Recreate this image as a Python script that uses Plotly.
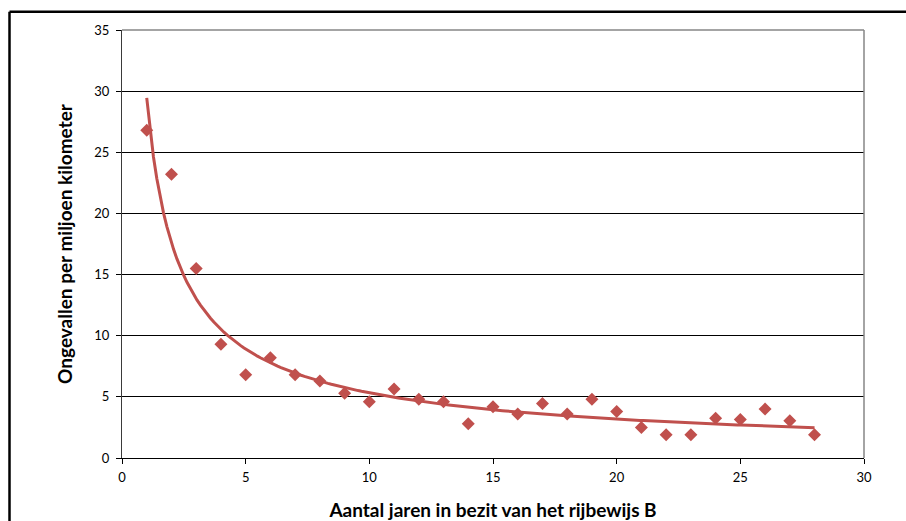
import numpy as np
import plotly.graph_objects as go

years = [1, 2, 3, 4, 5, 6, 7, 8, 9, 10, 11, 12, 13, 14, 15, 16, 17, 18, 19, 20,
         21, 22, 23, 24, 25, 26, 27, 28]
accidents = [26.8, 23.2, 15.5, 9.3, 6.8, 8.2, 6.8, 6.3, 5.3, 4.6, 5.65, 4.8, 4.6, 2.8,
             4.2, 3.6, 4.45, 3.6, 4.8, 3.8, 2.5, 1.9, 1.9, 3.25, 3.15, 4.0, 3.05, 1.9]
x_ticks = [0, 5, 10, 15, 20, 25, 30]
y_ticks = [0, 5, 10, 15, 20, 25, 30, 35]
x_title = "Aantal jaren in bezit van het rijbewijs B"
y_title = "Ongevallen per miljoen kilometer"

RED = "#C0504D"
FONT = "Lato"

# power trendline (least squares in log-log space, as a spreadsheet power trendline)
b, loga = np.polyfit(np.log(years), np.log(accidents), 1)
a = np.exp(loga)
tx = np.linspace(min(years), max(years), 200)
ty = a * tx ** b

fig = go.Figure()
fig.add_trace(go.Scatter(x=tx, y=ty, mode="lines",
                         line=dict(color=RED, width=3), hoverinfo="skip",
                         showlegend=False))
fig.add_trace(go.Scatter(x=years, y=accidents, mode="markers",
                         marker=dict(symbol="diamond", size=10, color=RED,
                                     line=dict(width=0)),
                         showlegend=False))

W, H = 906, 521
L, R, T, B = 122, 42, 29.5, 62.5
pw, ph = W - L - R, H - T - B

fig.update_layout(
    width=W, height=H,
    margin=dict(l=L, r=R, t=T, b=B, pad=0, autoexpand=False),
    paper_bgcolor="white", plot_bgcolor="white",
    font=dict(family=FONT, size=13, color="#000000"),
    xaxis=dict(range=[0, 30], tickvals=x_ticks, showgrid=False, zeroline=False,
               automargin=False,
               showline=True, linecolor="#000000", linewidth=1,
               ticks="outside", ticklen=5, tickcolor="#000000",
               ticklabelstandoff=2,
               tickfont=dict(size=13),
               title=dict(text="<b>" + x_title + "</b>", font=dict(size=19), standoff=30)),
    yaxis=dict(range=[0, 35], tickvals=y_ticks, showgrid=True, gridcolor="#000000",
               gridwidth=1, zeroline=False, automargin=False,
               showline=True, linecolor="#3a3a3a", linewidth=1,
               ticks="outside", ticklen=5, tickcolor="#000000",
               ticklabelstandoff=4,
               tickfont=dict(size=13),
               title=dict(text="<b>" + y_title + "</b>", font=dict(size=19), standoff=16)),
)

# plot-area border (top and right) in grey
fig.add_shape(type="line", xref="paper", yref="paper", x0=0, x1=1, y0=1, y1=1,
              line=dict(color="#868686", width=1.5), layer="above")
fig.add_shape(type="line", xref="paper", yref="paper", x0=1, x1=1, y0=0, y1=1,
              line=dict(color="#868686", width=1.5), layer="above")

# outer chart frame (left and top edges visible)
fx = (9.5 - L) / pw
fy = (H - B - 11.3) / ph
fig.add_shape(type="line", xref="paper", yref="paper", x0=fx, x1=(W + 5 - L) / pw,
              y0=fy, y1=fy, line=dict(color="#000000", width=2.5))
fig.add_shape(type="line", xref="paper", yref="paper", x0=fx, x1=fx,
              y0=fy, y1=-(B + 5) / ph, line=dict(color="#000000", width=2.5))

fig.write_html("out.html", config={"displayModeBar": False},
               post_script="document.body.style.margin='0';")
